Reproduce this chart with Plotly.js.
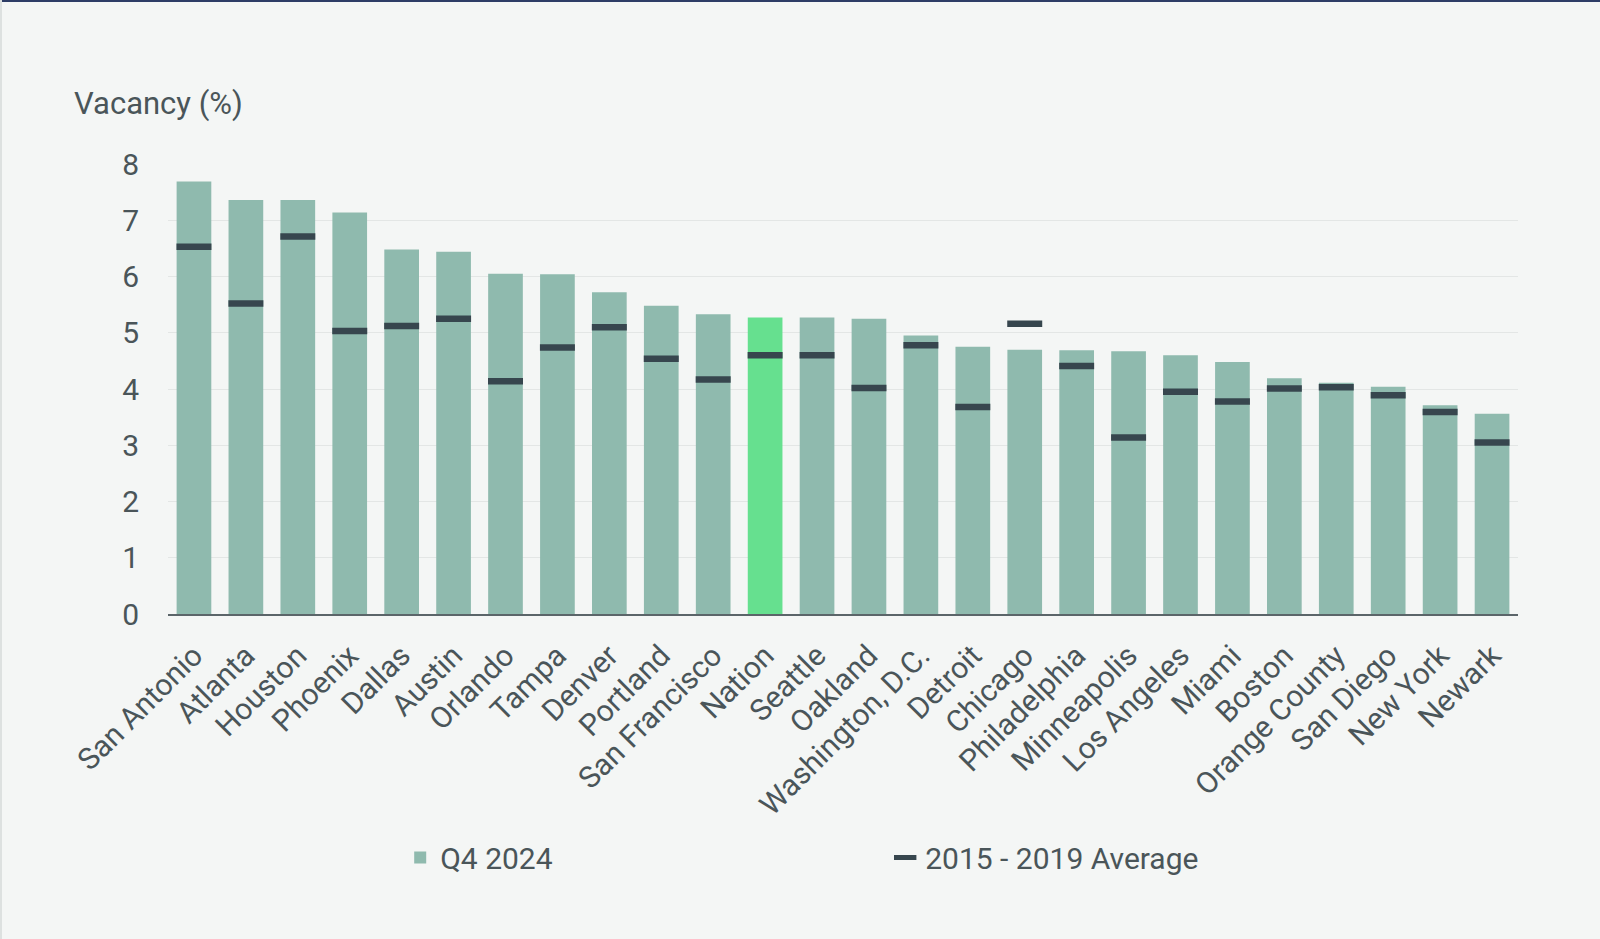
<!DOCTYPE html>
<html>
<head>
<meta charset="utf-8">
<script src="https://cdn.plot.ly/plotly-3.0.1.min.js"></script>
<style>
  html, body { margin: 0; padding: 0; background: #f4f6f5; }
  #wrap { position: relative; width: 1600px; height: 939px; overflow: hidden; }
  #chart { position: absolute; left: 0; top: 0; width: 1600px; height: 939px; }
  #topline { position: absolute; left: 0; top: 0; width: 1600px; height: 2px; background: #2e3d66; }
  #leftline { position: absolute; left: 0; top: 0; width: 2px; height: 939px; background: #dde1e0; }
</style>
</head>
<body>
<div id="wrap">
  <div id="chart"></div>
  <div id="topline"></div>
  <div id="leftline"></div>
</div>
<script>
// markets, sorted by Q4 2024 vacancy
const markets = ['San Antonio', 'Atlanta', 'Houston', 'Phoenix', 'Dallas', 'Austin', 'Orlando',
                 'Tampa', 'Denver', 'Portland', 'San Francisco', 'Nation', 'Seattle', 'Oakland',
                 'Washington, D.C.', 'Detroit', 'Chicago', 'Philadelphia', 'Minneapolis',
                 'Los Angeles', 'Miami', 'Boston', 'Orange County', 'San Diego', 'New York', 'Newark'];

const q4_2024 = [7.69, 7.36, 7.36, 7.14, 6.48, 6.44, 6.05, 6.04, 5.72, 5.48, 5.33, 5.27, 5.27,
                 5.25, 4.95, 4.75, 4.70, 4.69, 4.67, 4.60, 4.48, 4.19, 4.11, 4.04, 3.71, 3.56];

const avg2015_2019 = [6.53, 5.52, 6.71, 5.03, 5.12, 5.25, 4.14, 4.74, 5.10, 4.54, 4.17, 4.60, 4.60,
                      4.02, 4.78, 3.68, 5.16, 4.41, 3.14, 3.95, 3.78, 4.01, 4.03, 3.89, 3.59, 3.05];

const yTicks = [0, 1, 2, 3, 4, 5, 6, 7, 8];

const barCol = '#8fbaae';
const nationCol = '#66e08f';
const avgCol = '#37464e';
const textCol = '#4a5559';
const fontFam = 'Roboto, "Open Sans", sans-serif';

const data = [
    {
        type: 'bar',
        name: 'Q4 2024',
        x: markets,
        y: q4_2024,
        marker: { color: markets.map(m => m === 'Nation' ? nationCol : barCol) },
        hoverinfo: 'x+y'
    },
    {
        // line-ew marker is drawn 1.4x its size, so 25 ≈ bar width
        type: 'scatter',
        mode: 'markers',
        name: '2015 - 2019 Average',
        x: markets,
        y: avg2015_2019,
        marker: {
            symbol: 'line-ew',
            size: 25,
            color: avgCol,
            line: { color: avgCol, width: 6.5 }
        },
        hoverinfo: 'x+y'
    }
];

const layout = {
    width: 1600,
    height: 939,
    margin: { l: 168, r: 82, t: 164, b: 325, pad: 0 },
    paper_bgcolor: '#f4f6f5',
    plot_bgcolor: '#f4f6f5',
    font: { family: fontFam, color: textCol, size: 28 },
    bargap: 0.332,
    showlegend: true,
    legend: {
        orientation: 'h',
        x: 0.172,
        xanchor: 'left',
        y: -0.541,
        yanchor: 'middle',
        entrywidth: 440,
        font: { size: 30, color: textCol },
        bgcolor: 'rgba(0,0,0,0)'
    },
    xaxis: {
        type: 'category',
        range: [-0.5, markets.length - 0.5],
        tickangle: -45,
        tickfont: { size: 30, color: textCol },
        showline: true,
        linecolor: '#5b6569',
        linewidth: 2,
        showgrid: false,
        ticks: '',
        ticklabelstandoff: 10
    },
    yaxis: {
        range: [0, 8],
        tickvals: yTicks,
        ticktext: yTicks.map(String),
        tickfont: { size: 30, color: textCol },
        showgrid: true,
        gridcolor: '#e3e6e5',
        gridwidth: 1,
        zeroline: false,
        showline: false,
        ticks: '',
        ticklabelstandoff: 28
    },
    annotations: [
        {
            text: 'Vacancy (%)',
            xref: 'paper', yref: 'paper',
            x: -0.071, y: 1.1334,
            xanchor: 'left', yanchor: 'middle',
            showarrow: false,
            font: { size: 31, color: textCol, family: fontFam }
        }
    ]
};

Plotly.newPlot('chart', data, layout, { displayModeBar: false, staticPlot: true });
</script>
</body>
</html>
